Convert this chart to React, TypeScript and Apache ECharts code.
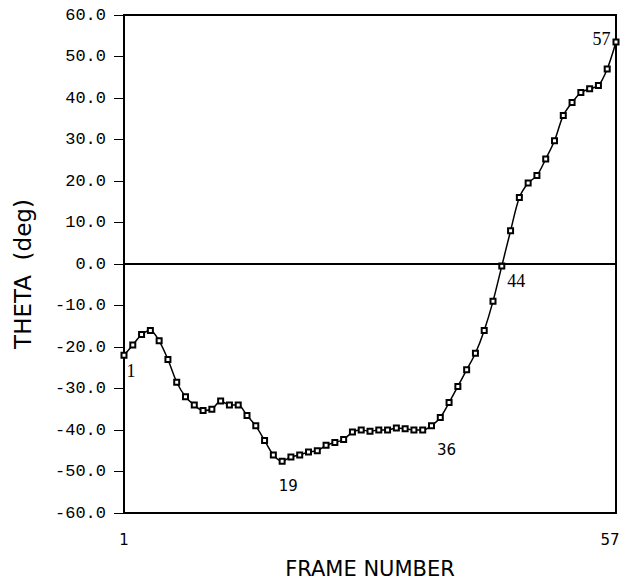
import React, { useEffect, useRef } from "react";
import * as echarts from "echarts";

const thetaValues = [
  -22, -19.5, -17, -16, -18.5, -23, -28.5, -32, -34, -35.3,
  -35, -33, -34, -34, -36.5, -39, -42.5, -46, -47.5, -46.5,
  -46, -45.3, -45, -43.7, -43, -42.3, -40.5, -40, -40.3, -40,
  -40, -39.5, -39.7, -40, -40, -39, -37, -33.4, -29.5, -25.5,
  -21.5, -16, -9, -0.5, 8, 16, 19.5, 21.3, 25.3, 29.7,
  35.8, 38.9, 41.3, 42.2, 43, 47, 53.5,
];
const xTickLabels = [1, 57];
const annotatedFrames = [1, 19, 36, 44, 57];

const labelStyles: Record<number, any> = {
  1: { position: [6, 10], fontFamily: "Liberation Serif", fontSize: 18 },
  19: { position: [0, 21], fontFamily: "DejaVu Sans", fontSize: 15 },
  36: { position: [9, 20], fontFamily: "DejaVu Sans", fontSize: 15 },
  44: { position: [9, 9], fontFamily: "Liberation Serif", fontSize: 18 },
  57: { position: [-20, -8], fontFamily: "Liberation Serif", fontSize: 18 },
};

export default function App() {
  const ref = useRef<HTMLDivElement>(null);
  useEffect(() => {
    if (!ref.current) return;
    const chart = echarts.init(ref.current, null, { renderer: "svg" });
    const data = thetaValues.map((v, i) => {
      const frame = i + 1;
      if (annotatedFrames.includes(frame)) {
        const s = labelStyles[frame];
        return {
          value: [frame, v],
          label: {
            show: true,
            formatter: String(frame),
            color: "#000",
            position: s.position,
            fontFamily: s.fontFamily,
            fontSize: s.fontSize,
          },
        };
      }
      return { value: [frame, v] };
    });
    chart.setOption({
      animation: false,
      backgroundColor: "#fff",
      grid: {
        left: 124,
        right: 7,
        top: 15,
        bottom: 66,
        outerBoundsMode: "none",
        containLabel: false,
        show: true,
        borderColor: "#000",
        borderWidth: 2,
      },
      xAxis: {
        type: "value",
        min: 1,
        max: 57,
        name: "FRAME NUMBER",
        nameLocation: "middle",
        nameGap: 45,
        nameTextStyle: { color: "#000", fontFamily: "DejaVu Sans", fontSize: 21, fontWeight: "normal" },
        axisLine: { show: true, lineStyle: { color: "#000", width: 2 } },
        axisTick: { show: false },
        splitLine: { show: false },
        axisLabel: {
          customValues: xTickLabels,
          color: "#000",
          fontFamily: "DejaVu Sans",
          fontSize: 15,
          margin: 19,
          showMinLabel: true,
          showMaxLabel: true,
          formatter: (v: number) => (v === 57 ? "{r|57}" : String(v)),
          rich: { r: { fontFamily: "DejaVu Sans", fontSize: 15, color: "#000", padding: [0, 12, 0, 0] } },
        },
      },
      yAxis: {
        type: "value",
        min: -60,
        max: 60,
        interval: 10,
        name: "THETA  (deg)",
        nameLocation: "middle",
        nameGap: 90,
        nameRotate: 90,
        nameTextStyle: {
          color: "#000",
          fontFamily: "DejaVu Sans",
          fontSize: 23,
          fontWeight: "normal",
          padding: [0, 20, 0, 0],
        },
        axisLine: { show: true, lineStyle: { color: "#000", width: 2 } },
        axisTick: { show: true, length: 10, lineStyle: { color: "#000", width: 1 } },
        splitLine: { show: false },
        axisLabel: {
          color: "#000",
          fontFamily: "Liberation Mono",
          fontSize: 17,
          margin: 18,
          formatter: (v: number) => v.toFixed(1),
        },
      },
      series: [
        {
          type: "line",
          data,
          smooth: 0.3,
          symbol: "emptyRect",
          symbolSize: 5,
          lineStyle: { color: "#000", width: 1.5 },
          itemStyle: { color: "#000", borderColor: "#000", borderWidth: 1 },
          markLine: {
            silent: true,
            symbol: "none",
            label: { show: false },
            lineStyle: { color: "#000", width: 1.5, type: "solid" },
            data: [{ yAxis: 0 }],
          },
        },
      ],
    });
    return () => chart.dispose();
  }, []);
  return <div ref={ref} style={{ width: 623, height: 579, position: "absolute", left: 0, top: 0 }} />;
}
